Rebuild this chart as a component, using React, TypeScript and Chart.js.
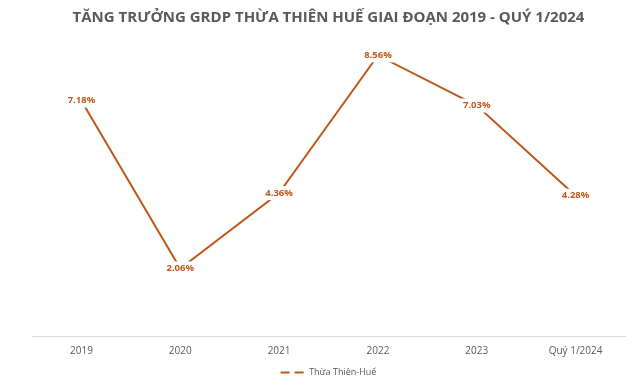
import React, { useEffect, useRef } from "react";
import { Chart, registerables } from "chart.js";

Chart.register(...registerables);

const categories = ["2019", "2020", "2021", "2022", "2023", "Quý 1/2024"];
const growth = [7.18, 2.06, 4.36, 8.56, 7.03, 4.28];
const seriesName = "Thừa Thiên-Huế";
const titleText = "TĂNG TRƯỞNG GRDP THỪA THIÊN HUẾ GIAI ĐOẠN 2019 - QUÝ 1/2024";

const LINE_COLOR = "#C0571A";

const labelPlugin = {
  id: "pointLabels",
  afterDatasetsDraw(chart: any) {
    const ctx = chart.ctx;
    const meta = chart.getDatasetMeta(0);
    const data = chart.data.datasets[0].data as number[];
    ctx.save();
    ctx.font = "bold 9.5px 'Open Sans'";
    ctx.textAlign = "center";
    ctx.textBaseline = "middle";
    meta.data.forEach((pt: any, i: number) => {
      const txt = data[i].toFixed(2) + "%";
      const w = ctx.measureText(txt).width;
      ctx.fillStyle = "#ffffff";
      ctx.fillRect(pt.x - w / 2 - 2, pt.y - 7, w + 4, 14);
      ctx.fillStyle = LINE_COLOR;
      ctx.fillText(txt, pt.x, pt.y);
    });
    ctx.restore();
  },
};

export default function App() {
  const ref = useRef<HTMLCanvasElement | null>(null);
  useEffect(() => {
    document.body.style.margin = "0";
    const chart = new Chart(ref.current as HTMLCanvasElement, {
      type: "line",
      data: {
        labels: categories,
        datasets: [
          {
            label: seriesName,
            data: growth,
            borderColor: LINE_COLOR,
            backgroundColor: LINE_COLOR,
            borderWidth: 2,
            pointRadius: 0,
            tension: 0,
          },
        ],
      },
      options: {
        animation: false,
        responsive: false,
        maintainAspectRatio: false,
        layout: { padding: { left: 32, right: 15, top: 0, bottom: 0 } },
        plugins: {
          title: {
            display: true,
            text: titleText,
            color: "#595959",
            font: { family: "'Open Sans'", size: 15, weight: "bold" },
            padding: { top: 9, bottom: 14 },
          },
          legend: {
            position: "bottom",
            labels: {
              color: "#595959",
              font: { family: "'Open Sans'", size: 9 },
              usePointStyle: true,
              pointStyleWidth: 24,
              padding: 2,
              generateLabels: () => [
                {
                  text: seriesName,
                  fillStyle: LINE_COLOR,
                  strokeStyle: LINE_COLOR,
                  lineWidth: 2,
                  lineDash: [9, 5],
                  pointStyle: "line",
                  datasetIndex: 0,
                  fontColor: "#595959",
                } as any,
              ],
            },
          },
          tooltip: { enabled: false },
        },
        scales: {
          x: {
            offset: true,
            grid: { display: false, drawTicks: false },
            border: { display: true, color: "#D9D9D9", width: 1 },
            ticks: {
              color: "#595959",
              font: { family: "'Open Sans'", size: 10 },
              padding: 9,
            },
          },
          y: {
            display: false,
            min: 0,
            max: 9,
          },
        },
      },
      plugins: [labelPlugin],
    });
    return () => chart.destroy();
  }, []);
  return (
    <div style={{ width: 640, height: 387 }}>
      <canvas ref={ref} width={640} height={387} />
    </div>
  );
}
